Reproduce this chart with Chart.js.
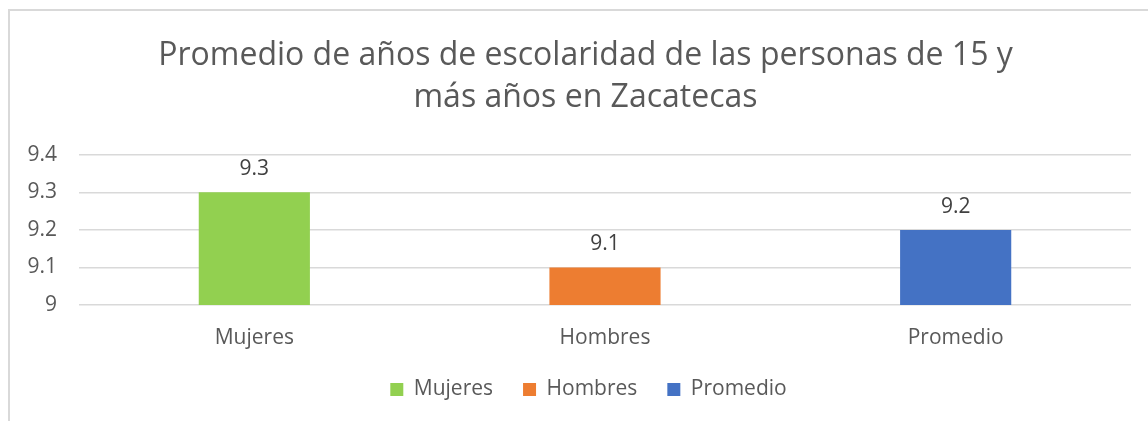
<!DOCTYPE html>
<html>
<head>
<meta charset="utf-8">
<script src="https://cdn.jsdelivr.net/npm/chart.js@4.4.1/dist/chart.umd.min.js"></script>
<style>
  html, body { margin: 0; padding: 0; background: #fff; }
  #wrap { position: relative; width: 1148px; height: 421px; overflow: hidden; }
  #frame { position: absolute; left: 8px; top: 9px; width: 1200px; height: 500px;
           border-left: 2px solid #d9d9d9; border-top: 2px solid #d9d9d9; box-sizing: border-box; }
  canvas { position: absolute; left: 0; top: 0; }
</style>
</head>
<body>
<div id="wrap">
  <div id="frame"></div>
  <canvas id="c" width="1148" height="421"></canvas>
</div>
<script>
const titleLines = ["Promedio de años de escolaridad de las personas de 15 y", "más años en Zacatecas"];
const categories = ["Mujeres", "Hombres", "Promedio"];
const seriesNames = ["Mujeres", "Hombres", "Promedio"];
const values = [9.3, 9.1, 9.2];
const colors = ["#92D050", "#ED7D31", "#4472C4"];
const yMin = 9, yMax = 9.4, yStep = 0.1;

const FONT = "'Open Sans', 'DejaVu Sans', sans-serif";
const FS = 21;

const datasets = seriesNames.map((name, i) => ({
  label: name,
  data: categories.map((_, j) => (j === i ? values[i] : null)),
  backgroundColor: colors[i],
  borderWidth: 0,
  grouped: false,
  categoryPercentage: 1,
  barPercentage: 0.317
}));

const dataLabels = {
  id: 'dataLabels',
  afterDatasetsDraw(chart) {
    const ctx = chart.ctx;
    ctx.save();
    ctx.font = FS + "px " + FONT;
    ctx.fillStyle = "#404040";
    ctx.textAlign = "center";
    ctx.textBaseline = "alphabetic";
    chart.data.datasets.forEach((ds, di) => {
      const meta = chart.getDatasetMeta(di);
      meta.data.forEach((el, i) => {
        const v = ds.data[i];
        if (v === null || v === undefined) return;
        ctx.fillText(String(v), el.x, el.y - 17);
      });
    });
    ctx.restore();
  }
};

// The reference centres its title and legend on the full chart frame, a bit right of the canvas centre.
const shiftBoxes = {
  id: 'shiftBoxes',
  afterLayout(chart) {
    if (chart.titleBlock) { chart.titleBlock.left += 20; chart.titleBlock.right += 20; }
    if (chart.legend) {
      chart.legend.left += 23; chart.legend.right += 23;
      chart.legend.top -= 3; chart.legend.bottom -= 3;
    }
  }
};

new Chart(document.getElementById('c'), {
  type: 'bar',
  data: { labels: categories, datasets },
  options: {
    responsive: false,
    animation: false,
    devicePixelRatio: 1,
    layout: { padding: { left: 0, right: 17, top: 0, bottom: 8 } },
    plugins: {
      title: {
        display: true,
        text: titleLines,
        color: "#595959",
        font: { family: FONT, size: 32, weight: 'normal', lineHeight: 1.34 },
        padding: { top: 34, bottom: 35 }
      },
      legend: {
        position: 'bottom',
        labels: {
          color: "#595959",
          font: { family: FONT, size: FS },
          boxWidth: 13,
          boxHeight: 13,
          padding: 30
        }
      },
      tooltip: { enabled: false }
    },
    scales: {
      x: {
        afterFit(scale) { scale.height = 47; },
        grid: { display: false, drawTicks: false },
        border: { display: false },
        ticks: { color: "#595959", font: { family: FONT, size: FS }, padding: 20 }
      },
      y: {
        min: yMin, max: yMax,
        afterFit(scale) { scale.width = 79; },
        grid: { color: "#d9d9d9", lineWidth: 1.5, drawTicks: false },
        border: { display: false },
        ticks: {
          stepSize: yStep, color: "#595959", font: { family: FONT, size: FS }, padding: 22,
          callback: (v) => String(Math.round(v * 10) / 10)
        }
      }
    }
  },
  plugins: [dataLabels, shiftBoxes]
});
</script>
</body>
</html>
